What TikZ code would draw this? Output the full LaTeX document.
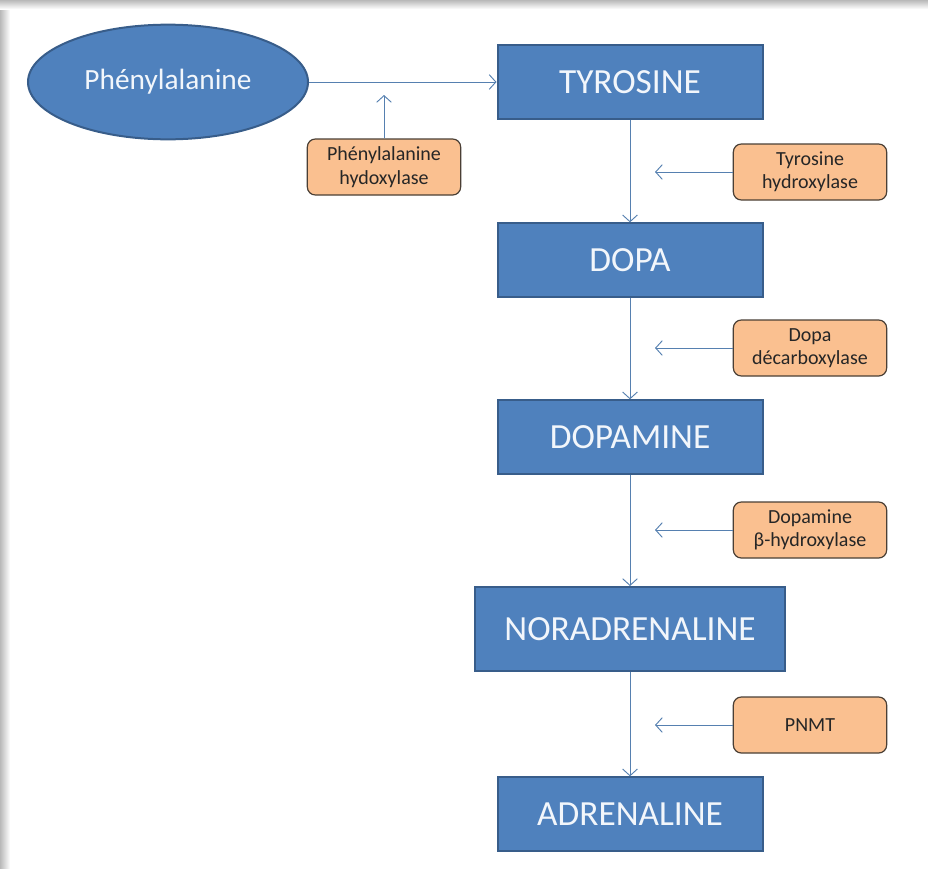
\documentclass[tikz,border=0pt]{standalone}
\usepackage{fontspec}
\setmainfont{Carlito}
\usepackage{xcolor}
\usepackage{tikz}
\definecolor{pathblue}{HTML}{4F81BD}
\definecolor{pathedge}{HTML}{385D8A}
\definecolor{pathtext}{HTML}{F2F6FB}
\definecolor{enzorange}{HTML}{FAC090}
\definecolor{enzedge}{HTML}{4A3F35}
\definecolor{linkblue}{HTML}{5680B0}
\usetikzlibrary{shapes.geometric, arrows.meta, positioning, calc}

\tikzset{
  molecule/.style={rectangle, draw=pathedge, fill=pathblue, line width=1.5pt, text=pathtext,
    minimum width=198.75pt, minimum height=55pt, font=\fontsize{26.5}{31}\selectfont},
  enzyme/.style={rectangle, rounded corners=6pt, draw=enzedge, fill=enzorange, line width=0.9pt,
    minimum width=115pt, minimum height=42pt, align=center, text=black!85,
    font=\fontsize{15}{17.5}\selectfont},
  link/.style={draw=linkblue, line width=0.7pt, -{Straight Barb[length=5pt, width=11pt]}}
}

\begin{document}
\begin{tikzpicture}[x=0.75pt, y=-0.75pt]
\useasboundingbox (0,0) rectangle (928,868);
% frame shadow
\shade[left color=gray!55, right color=white] (0,0) rectangle (10,868);
\shade[top color=gray!55, bottom color=white] (0,0) rectangle (928,9);

% Draw the pathway molecules
\node[molecule, ellipse, minimum width=210pt, minimum height=86pt, font=\fontsize{22}{26}\selectfont] (phe) at (168,82) {Phénylalanine};
\node[molecule] (tyr) at (630,82) {TYROSINE};
\node[molecule] (dopa) at (630,260) {DOPA};
\node[molecule] (dopamine) at (630,437) {DOPAMINE};
\node[molecule, minimum width=232pt, minimum height=63pt] (nora) at (630,629) {NORADRENALINE};
\node[molecule] (adre) at (630,814) {ADRENALINE};

% Draw the enzymes
\node[enzyme] (pah) at (384,167) {Phénylalanine\\hydoxylase};
\node[enzyme] (th) at (810,172) {Tyrosine\\hydroxylase};
\node[enzyme] (ddc) at (810,348) {Dopa\\décarboxylase};
\node[enzyme] (dbh) at (810,530) {Dopamine\\β-hydroxylase};
\node[enzyme] (pnmt) at (810,725) {PNMT};

% Free ends of the enzyme arrows
\coordinate (pahtip) at (384,95);
\coordinate (thtip) at (655,172);
\coordinate (ddctip) at (655,348);
\coordinate (dbhtip) at (655,530);
\coordinate (pnmttip) at (655,725);

% Draw the reaction arrows
\draw[link] (phe.east) -- (tyr.west);
\draw[link] (tyr) -- (dopa);
\draw[link] (dopa) -- (dopamine);
\draw[link] (dopamine) -- (nora);
\draw[link] (nora) -- (adre);

\draw[link] (pah) -- (pahtip);
\draw[link] (th) -- (thtip);
\draw[link] (ddc) -- (ddctip);
\draw[link] (dbh) -- (dbhtip);
\draw[link] (pnmt) -- (pnmttip);
\end{tikzpicture}
\end{document}
